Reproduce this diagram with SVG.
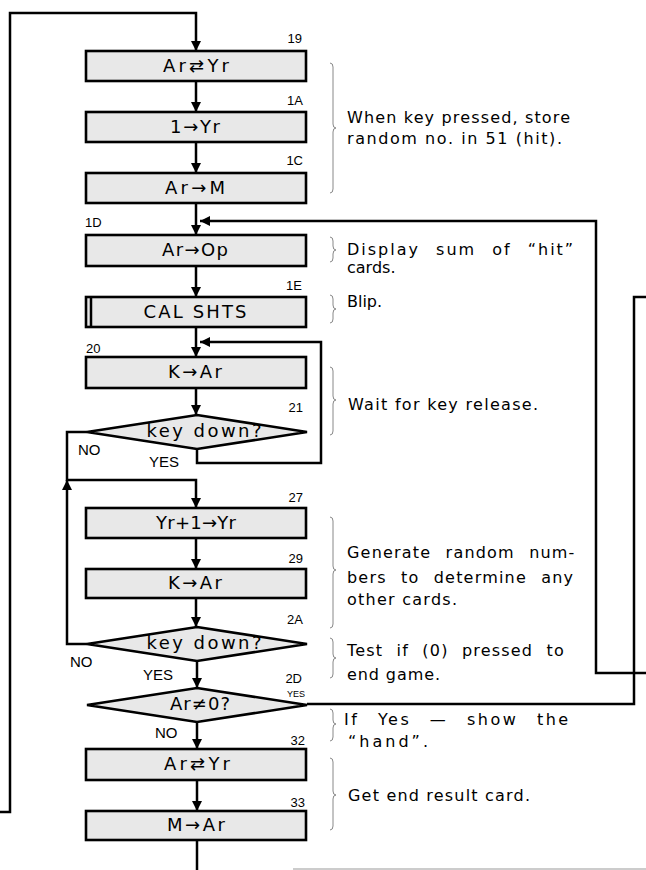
<svg xmlns="http://www.w3.org/2000/svg" width="646" height="870" viewBox="0 0 646 870">
<style>
.box{fill:#e8e8e8;stroke:#000;stroke-width:2.6}
.t{font-family:"DejaVu Sans","Liberation Sans",sans-serif;font-size:18px;fill:#000;text-anchor:middle}
.n{font-family:"Liberation Sans",Arial,sans-serif;font-size:13px;fill:#000}
.yn{font-family:"Liberation Sans",Arial,sans-serif;font-size:15px;fill:#000}
.d{font-family:"DejaVu Sans","Liberation Sans",sans-serif;font-size:16px;fill:#000}
.c{fill:none;stroke:#000;stroke-width:2.5}
.br{fill:none;stroke:#888;stroke-width:1}
</style>
<defs>
<marker id="ah" markerWidth="10" markerHeight="10" refX="10" refY="5" orient="auto" markerUnits="userSpaceOnUse"><path d="M0,0 L10,5 L0,10 z" fill="#000"/></marker>
</defs>
<rect width="646" height="870" fill="#fff"/>

<g id="connectors">
<polyline class="c" points="0,812 10,812 10,13 196,13 196,51" marker-end="url(#ah)"/>
<line class="c" x1="196" y1="81" x2="196" y2="112" marker-end="url(#ah)"/>
<line class="c" x1="196" y1="142" x2="196" y2="173" marker-end="url(#ah)"/>
<line class="c" x1="196" y1="203" x2="196" y2="235" marker-end="url(#ah)"/>
<polyline class="c" points="646,673 596,673 596,221 200,221" marker-end="url(#ah)"/>
<line class="c" x1="196" y1="266" x2="196" y2="297" marker-end="url(#ah)"/>
<line class="c" x1="196" y1="327" x2="196" y2="357" marker-end="url(#ah)"/>
<line class="c" x1="196" y1="388" x2="196" y2="415" marker-end="url(#ah)"/>
<polyline class="c" points="197,449 197,463 321,463 321,342 200,342" marker-end="url(#ah)"/>
<polyline class="c" points="87,432 67,432 67,481"/>
<polyline class="c" points="87,644 67,644 67,480" marker-end="url(#ah)"/>
<polyline class="c" points="67,480 196,480 196,508" marker-end="url(#ah)"/>
<line class="c" x1="196" y1="538" x2="196" y2="569" marker-end="url(#ah)"/>
<line class="c" x1="196" y1="598" x2="196" y2="627" marker-end="url(#ah)"/>
<line class="c" x1="197" y1="661" x2="197" y2="688" marker-end="url(#ah)"/>
<polyline class="c" points="307,704 634,704 634,297 646,297"/>
<line class="c" x1="197" y1="722" x2="197" y2="749" marker-end="url(#ah)"/>
<line class="c" x1="197" y1="780" x2="197" y2="811" marker-end="url(#ah)"/>
<line class="c" x1="197" y1="840" x2="197" y2="870"/>
<line x1="293" y1="869" x2="646" y2="869" stroke="#999" stroke-width="1"/>
</g>

<g id="n19"><rect class="box" x="86" y="51" width="220" height="30"/><text class="t" x="196" y="72" textLength="66">Ar⇄Yr</text><text class="n" x="302" y="43" text-anchor="end">19</text></g>
<g id="n1A"><rect class="box" x="86" y="112" width="220" height="30"/><text class="t" x="195" y="133" textLength="50">1→Yr</text><text class="n" x="303" y="105" text-anchor="end">1A</text></g>
<g id="n1C"><rect class="box" x="86" y="173" width="220" height="30"/><text class="t" x="195" y="194" textLength="60">Ar→M</text><text class="n" x="303" y="165" text-anchor="end">1C</text></g>
<g id="n1D"><rect class="box" x="86" y="235" width="220" height="31"/><text class="t" x="195" y="256" textLength="66">Ar→Op</text><text class="n" x="85" y="227">1D</text></g>
<g id="n1E"><rect class="box" x="86" y="297" width="220" height="30"/><line x1="91" y1="297" x2="91" y2="327" stroke="#000" stroke-width="2.5"/><text class="t" x="195" y="318" textLength="103">CAL SHTS</text><text class="n" x="302" y="290" text-anchor="end">1E</text></g>
<g id="n20"><rect class="box" x="86" y="357" width="220" height="31"/><text class="t" x="195" y="378" textLength="54">K→Ar</text><text class="n" x="86" y="353">20</text></g>
<g id="n21"><polygon class="box" points="197,415 307,432 197,449 87,432"/><text class="t" x="204" y="437" textLength="115">key down?</text><text class="n" x="303" y="412" text-anchor="end">21</text><text class="yn" x="78" y="455">NO</text><text class="yn" x="149" y="467">YES</text></g>
<g id="n27"><rect class="box" x="86" y="508" width="220" height="30"/><text class="t" x="196" y="529" textLength="80">Yr+1→Yr</text><text class="n" x="303" y="502" text-anchor="end">27</text></g>
<g id="n29"><rect class="box" x="86" y="569" width="220" height="29"/><text class="t" x="195" y="589" textLength="54">K→Ar</text><text class="n" x="303" y="563" text-anchor="end">29</text></g>
<g id="n2A"><polygon class="box" points="197,627 307,644 197,661 87,644"/><text class="t" x="204" y="649" textLength="115">key down?</text><text class="n" x="303" y="624" text-anchor="end">2A</text><text class="yn" x="70" y="667">NO</text><text class="yn" x="143" y="680">YES</text></g>
<g id="n2D"><polygon class="box" points="197,688 307,705 197,722 87,705"/><text class="t" x="200" y="710" textLength="60">Ar≠0?</text><text class="n" x="302" y="683" text-anchor="end">2D</text><text x="287" y="697" font-family="Liberation Sans,sans-serif" font-size="9">YES</text><text class="yn" x="155" y="738">NO</text></g>
<g id="n32"><rect class="box" x="86" y="749" width="220" height="31"/><text class="t" x="197" y="770" textLength="66">Ar⇄Yr</text><text class="n" x="305" y="745" text-anchor="end">32</text></g>
<g id="n33"><rect class="box" x="86" y="811" width="220" height="29"/><text class="t" x="196" y="831" textLength="58">M→Ar</text><text class="n" x="305" y="807" text-anchor="end">33</text></g>

<g id="notes">
<path class="br" d="M330,63 Q333,63 333,67 L333,124 Q333,128 336,128 Q333,128 333,132 L333,189 Q333,193 330,193"/>
<text class="d" x="347" y="123" textLength="223">When key pressed, store</text>
<text class="d" x="347" y="144" textLength="215">random no. in 51 (hit).</text>
<path class="br" d="M330,237 Q333,237 333,241 L333,246 Q333,250 336,250 Q333,250 333,254 L333,258 Q333,262 330,262"/>
<text class="d" x="347" y="255" letter-spacing="2" word-spacing="9">Display sum of “hit”</text>
<text class="d" x="347" y="273">cards.</text>
<path class="br" d="M330,295 Q333,295 333,299 L333,305 Q333,309 336,309 Q333,309 333,313 L333,319 Q333,323 330,323"/>
<text class="d" x="347" y="307">Blip.</text>
<path class="br" d="M330,367 Q333,367 333,371 L333,396 Q333,400 336,400 Q333,400 333,404 L333,431 Q333,435 330,435"/>
<text class="d" x="348" y="410" textLength="190">Wait for key release.</text>
<path class="br" d="M330,517 Q333,517 333,521 L333,566 Q333,570 336,570 Q333,570 333,574 L333,624 Q333,628 330,628"/>
<text class="d" x="347" y="558" letter-spacing="1.2" word-spacing="8">Generate random num-</text>
<text class="d" x="347" y="583" letter-spacing="1.2" word-spacing="8">bers to determine any</text>
<text class="d" x="347" y="605" textLength="110">other cards.</text>
<path class="br" d="M330,638 Q333,638 333,642 L333,654 Q333,658 336,658 Q333,658 333,662 L333,674 Q333,678 330,678"/>
<text class="d" x="347" y="656" letter-spacing="1.2" word-spacing="7">Test if (0) pressed to</text>
<text class="d" x="347" y="680" textLength="93">end game.</text>
<path class="br" d="M330,709 Q333,709 333,713 L333,720 Q333,724 336,724 Q333,724 333,728 L333,737 Q333,741 330,741"/>
<text class="d" x="344" y="725" letter-spacing="2.5" word-spacing="11">If Yes — show the</text>
<text class="d" x="348" y="747" textLength="80">“hand”.</text>
<path class="br" d="M330,758 Q333,758 333,762 L333,791 Q333,795 336,795 Q333,795 333,799 L333,826 Q333,830 330,830"/>
<text class="d" x="348" y="801" textLength="182">Get end result card.</text>
</g>
</svg>
